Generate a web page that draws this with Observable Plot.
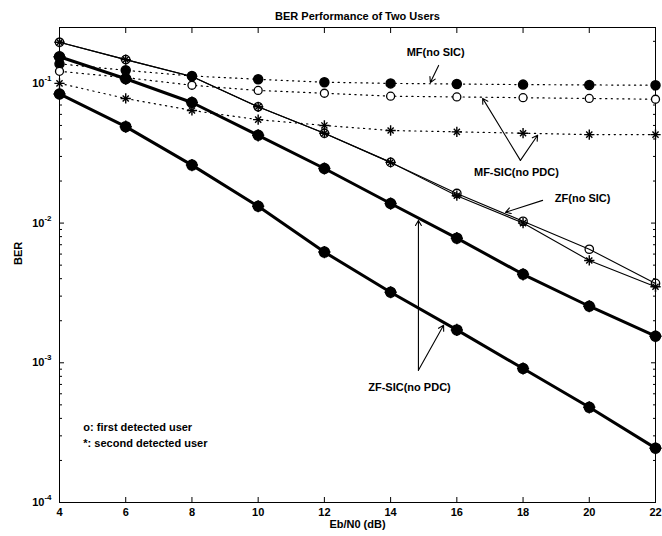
<!DOCTYPE html>
<html><head><meta charset="utf-8">
<script src="https://cdn.jsdelivr.net/npm/d3@7"></script>
<script src="https://cdn.jsdelivr.net/npm/@observablehq/plot@0.6"></script>
<style>body{margin:0;background:#fff}</style>
</head><body><div id="chart"></div>
<script>
const ebn0 = [4, 6, 8, 10, 12, 14, 16, 18, 20, 22];
// ZF-SIC (no PDC): two bold curves, both users overlap on each
const zfSicUpper = [0.155, 0.108, 0.073, 0.0425, 0.0246, 0.0138, 0.0078, 0.0043, 0.00254, 0.00155];
const zfSicLower = [0.084, 0.049, 0.026, 0.0132, 0.0062, 0.0032, 0.00172, 0.00091, 0.00048, 0.000245];
// ZF (no SIC)
const zfNoSicUser1 = [0.197, 0.148, 0.112, 0.068, 0.044, 0.0272, 0.0163, 0.0103, 0.0065, 0.0037];
const zfNoSicUser2 = [0.197, 0.148, 0.112, 0.068, 0.044, 0.0272, 0.0157, 0.0100, 0.0054, 0.0035];
// MF (no SIC)
const mfNoSic = [0.138, 0.124, 0.113, 0.107, 0.102, 0.100, 0.099, 0.098, 0.0975, 0.097];
// MF-SIC (no PDC)
const mfSicUser1 = [0.122, 0.110, 0.097, 0.089, 0.085, 0.081, 0.080, 0.079, 0.078, 0.077];
const mfSicUser2 = [0.100, 0.078, 0.064, 0.055, 0.050, 0.046, 0.045, 0.044, 0.043, 0.043];

const yTicks = [1e-4, 1e-3, 1e-2, 1e-1];
const yExponents = ["-4", "-3", "-2", "-1"];
const yMinorTicks = [];
for (const dec of [1e-4, 1e-3, 1e-2, 1e-1]) for (let k = 2; k <= 9; k++) { const v = k * dec; if (v <= 0.2512) yMinorTicks.push(v); }

const title = "BER Performance of Two Users";
const xLabel = "Eb/N0 (dB)";
const yLabel = "BER";

const labels = [
  {x: 15.36, y: 0.167, text: "MF(no SIC)"},
  {x: 17.80, y: 0.0231, text: "MF-SIC(no PDC)"},
  {x: 19.80, y: 0.0150, text: "ZF(no SIC)"},
  {x: 14.57, y: 0.000667, text: "ZF-SIC(no PDC)"}
];
const legendNotes = [
  {x: 4.72, y: 0.000345, text: "o: first detected user"},
  {x: 4.72, y: 0.000265, text: "*: second detected user"}
];
const arrows = [
  {x1: 15.45, y1: 0.1345, x2: 15.20, y2: 0.1016},
  {x1: 17.92, y1: 0.0281, x2: 16.78, y2: 0.0781},
  {x1: 17.92, y1: 0.0281, x2: 18.44, y2: 0.0425},
  {x1: 18.59, y1: 0.01454, x2: 17.47, y2: 0.01194},
  {x1: 14.84, y1: 0.000883, x2: 14.84, y2: 0.01045},
  {x1: 14.84, y1: 0.000883, x2: 15.60, y2: 0.001854}
];

const rows = ys => ebn0.map((x, i) => ({x, y: ys[i]}));
const dotted = {x: "x", y: "y", stroke: "black", strokeWidth: 1.2, strokeDasharray: "1.2,4.5"};
const font = {fontFamily: "Liberation Sans, Arial, sans-serif", fontWeight: "bold", fontSize: 11, fill: "black"};
// MATLAB-style '*' marker: plus + times overlaid
const star = (data, r = 3.4, sw = 1.4) => [
  Plot.dot(data, {x: "x", y: "y", r, symbol: "plus", stroke: "black", strokeWidth: sw}),
  Plot.dot(data, {x: "x", y: "y", r: r * 0.85, symbol: "times", stroke: "black", strokeWidth: sw})
];

const chart = Plot.plot({
  width: 662, height: 536,
  marginLeft: 59, marginRight: 7, marginTop: 27, marginBottom: 34,
  style: {fontFamily: "Liberation Sans, Arial, sans-serif", fontSize: "11px", fontWeight: "bold", background: "white", color: "black"},
  x: {domain: [4, 22]},
  y: {type: "log", domain: [1e-4, 0.2512]},
  marks: [
    Plot.frame({stroke: "black", strokeWidth: 1}),
    // ticks
    Plot.axisX(ebn0, {anchor: "bottom", tickSize: -5, tickFormat: () => "", label: null}),
    Plot.axisX(ebn0, {anchor: "top", tickSize: -5, tickFormat: () => "", label: null}),
    Plot.axisX(ebn0, {anchor: "bottom", tickSize: 0, tickPadding: 6, label: null, ...font}),
    Plot.axisY(yTicks, {anchor: "left", tickSize: -5, tickFormat: () => "", label: null}),
    Plot.axisY(yTicks, {anchor: "right", tickSize: -5, tickFormat: () => "", label: null}),
    Plot.axisY(yMinorTicks, {anchor: "left", tickSize: -3, tickFormat: () => "", label: null}),
    Plot.axisY(yMinorTicks, {anchor: "right", tickSize: -3, tickFormat: () => "", label: null}),
    Plot.text(yTicks, {y: d => d, frameAnchor: "left", dx: -15, textAnchor: "end", text: () => "10", ...font}),
    Plot.text(yTicks, {y: d => d, frameAnchor: "left", dx: -8, dy: -5, textAnchor: "end", text: d => yExponents[yTicks.indexOf(d)], ...font, fontSize: 8}),
    // titles
    Plot.text([title], {frameAnchor: "top", dy: -15, text: d => d, ...font}),
    Plot.text([xLabel], {frameAnchor: "bottom", dy: 25, text: d => d, ...font}),
    Plot.text([yLabel], {frameAnchor: "left", dx: -41, rotate: -90, text: d => d, ...font}),
    // lines
    Plot.line(rows(mfNoSic), dotted),
    Plot.line(rows(mfSicUser1), dotted),
    Plot.line(rows(mfSicUser2), dotted),
    Plot.line(rows(zfNoSicUser1), {x: "x", y: "y", stroke: "black", strokeWidth: 1.1}),
    Plot.line(rows(zfNoSicUser2), {x: "x", y: "y", stroke: "black", strokeWidth: 1.1}),
    Plot.line(rows(zfSicUpper), {x: "x", y: "y", stroke: "black", strokeWidth: 3}),
    Plot.line(rows(zfSicLower), {x: "x", y: "y", stroke: "black", strokeWidth: 3}),
    // markers
    Plot.dot(rows(mfNoSic), {x: "x", y: "y", r: 4.5, fill: "black", stroke: "black"}),
    Plot.dot(rows(mfSicUser1), {x: "x", y: "y", r: 4, fill: "white", stroke: "black", strokeWidth: 1.3}),
    ...star(rows(mfSicUser2)),
    Plot.dot(rows(zfNoSicUser1), {x: "x", y: "y", r: 4.2, fill: "none", stroke: "black", strokeWidth: 1.3}),
    ...star(rows(zfNoSicUser2)),
    Plot.dot(rows(zfSicUpper), {x: "x", y: "y", r: 5, fill: "black", stroke: "black"}),
    ...star(rows(zfSicUpper), 4, 1.5),
    Plot.dot(rows(zfSicLower), {x: "x", y: "y", r: 5, fill: "black", stroke: "black"}),
    ...star(rows(zfSicLower), 4, 1.5),
    // annotations
    Plot.arrow(arrows, {x1: "x1", y1: "y1", x2: "x2", y2: "y2", stroke: "black", strokeWidth: 1.1, headLength: 8}),
    Plot.text(labels, {x: "x", y: "y", text: "text", ...font}),
    Plot.text(legendNotes, {x: "x", y: "y", text: "text", textAnchor: "start", ...font})
  ]
});
document.getElementById("chart").appendChild(chart);
</script>
</body></html>
